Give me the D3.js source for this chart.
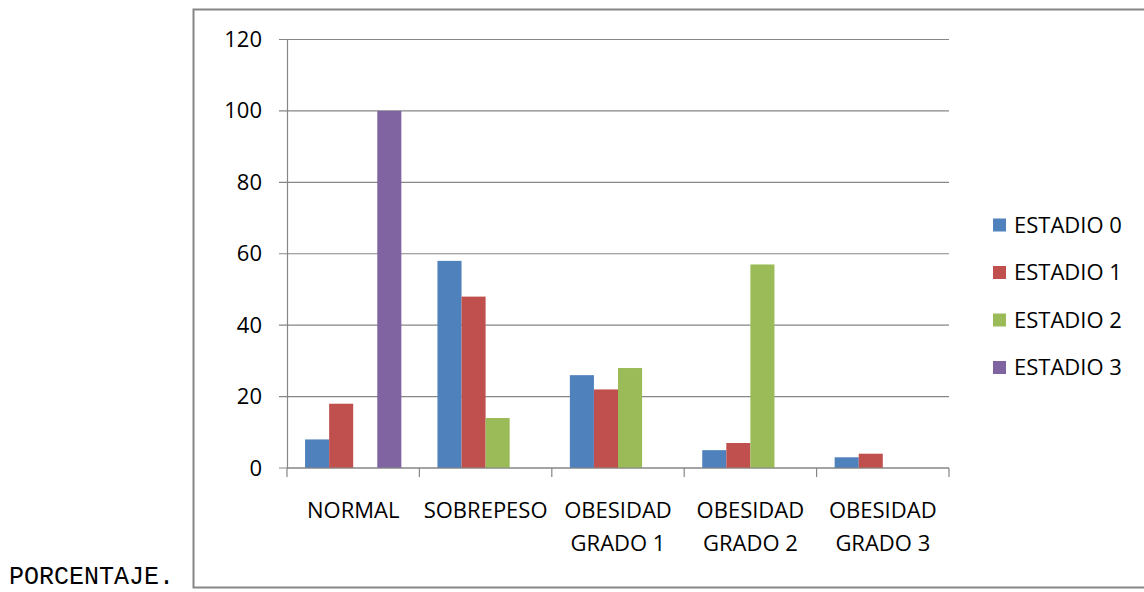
<!DOCTYPE html>
<html>
<head>
<meta charset="utf-8">
<script src="https://cdn.jsdelivr.net/npm/d3@7"></script>
<style>
  body { margin: 0; background: #fff; }
  svg { display: block; }
  text { font-family: "Open Sans", sans-serif; fill: #000; }
</style>
</head>
<body>
<svg width="1144" height="592"></svg>
<script>
var categories = [["NORMAL"], ["SOBREPESO"], ["OBESIDAD", "GRADO 1"], ["OBESIDAD", "GRADO 2"], ["OBESIDAD", "GRADO 3"]];
var seriesNames = ["ESTADIO 0", "ESTADIO 1", "ESTADIO 2", "ESTADIO 3"];
var estadio0 = [8, 58, 26, 5, 3];
var estadio1 = [18, 48, 22, 7, 4];
var estadio2 = [0, 14, 28, 57, 0];
var estadio3 = [100, 0, 0, 0, 0];
var yTicks = [0, 20, 40, 60, 80, 100, 120];
var colors = ["#4F81BD", "#C0504D", "#9BBB59", "#8064A2"];

var svg = d3.select("svg");
var seriesValues = [estadio0, estadio1, estadio2, estadio3];
var catKeys = categories.map(function(c) { return c.join(" "); });

// marco del gráfico
svg.append("rect")
    .attr("x", 193.5).attr("y", 9.5)
    .attr("width", 1000).attr("height", 578)
    .attr("fill", "none")
    .attr("stroke", "#868686")
    .attr("stroke-width", 2);

svg.append("text")
    .attr("x", 9).attr("y", 584)
    .style("font-family", "'Liberation Mono', 'Courier New', monospace")
    .style("font-size", "25px")
    .text("PORCENTAJE.");

var x = d3.scaleBand().domain(catKeys).range([287, 949]).paddingInner(0).paddingOuter(0);
var x1 = d3.scaleBand().domain(seriesNames).range([0, x.bandwidth()]).paddingInner(0).paddingOuter(0.75);
var y = d3.scaleLinear().domain([0, 120]).range([468, 39.5]);

// líneas de división
svg.append("g").selectAll("line")
    .data(yTicks)
    .enter().append("line")
    .attr("x1", 279).attr("x2", 949)
    .attr("y1", function(d) { return y(d); })
    .attr("y2", function(d) { return y(d); })
    .attr("stroke", "#868686")
    .attr("stroke-width", 1.2);

// eje Y
var yAxis = svg.append("g")
    .attr("transform", "translate(287,0)")
    .call(d3.axisLeft(y).tickValues(yTicks).tickSize(0).tickPadding(25));
yAxis.select(".domain").attr("stroke", "#868686").attr("stroke-width", 1.2);
yAxis.selectAll("text")
    .style("font-family", "'Open Sans', sans-serif")
    .style("font-size", "22px")
    .attr("fill", "#000");

// barras
var groups = svg.append("g").selectAll("g")
    .data(catKeys)
    .enter().append("g")
    .attr("transform", function(d) { return "translate(" + x(d) + ",0)"; });

groups.selectAll("rect")
    .data(function(d, i) {
        return seriesNames.map(function(s, j) { return {key: s, value: seriesValues[j][i], idx: j}; });
    })
    .enter().append("rect")
    .filter(function(d) { return d.value > 0; })
    .attr("x", function(d) { return x1(d.key); })
    .attr("y", function(d) { return y(d.value); })
    .attr("width", x1.bandwidth())
    .attr("height", function(d) { return y(0) - y(d.value); })
    .attr("fill", function(d) { return colors[d.idx]; });

// eje X
svg.append("line")
    .attr("x1", 287).attr("x2", 949)
    .attr("y1", y(0)).attr("y2", y(0))
    .attr("stroke", "#868686").attr("stroke-width", 1.2);

var bounds = catKeys.map(function(k) { return x(k); }).concat([x.range()[1]]);
svg.append("g").selectAll("line")
    .data(bounds)
    .enter().append("line")
    .attr("x1", function(d) { return d; }).attr("x2", function(d) { return d; })
    .attr("y1", y(0)).attr("y2", y(0) + 9)
    .attr("stroke", "#868686").attr("stroke-width", 1.2);

var labels = svg.append("g").selectAll("text")
    .data(categories)
    .enter().append("text")
    .attr("text-anchor", "middle")
    .style("font-size", "22px")
    .attr("transform", function(d, i) { return "translate(" + (x(catKeys[i]) + x.bandwidth() / 2) + ",518)"; });
labels.selectAll("tspan")
    .data(function(d) { return d; })
    .enter().append("tspan")
    .attr("x", 0)
    .attr("dy", function(d, i) { return i === 0 ? 0 : 32.5; })
    .text(function(d) { return d; });

// leyenda
var legend = svg.append("g").selectAll("g")
    .data(seriesNames)
    .enter().append("g")
    .attr("transform", function(d, i) { return "translate(993," + (225 + i * 47.5) + ")"; });

legend.append("rect")
    .attr("x", 0).attr("y", -6.5)
    .attr("width", 13).attr("height", 13)
    .attr("fill", function(d, i) { return colors[i]; });

legend.append("text")
    .attr("x", 21).attr("y", 0)
    .attr("dy", "0.36em")
    .style("font-size", "22px")
    .text(function(d) { return d; });
</script>
</body>
</html>
